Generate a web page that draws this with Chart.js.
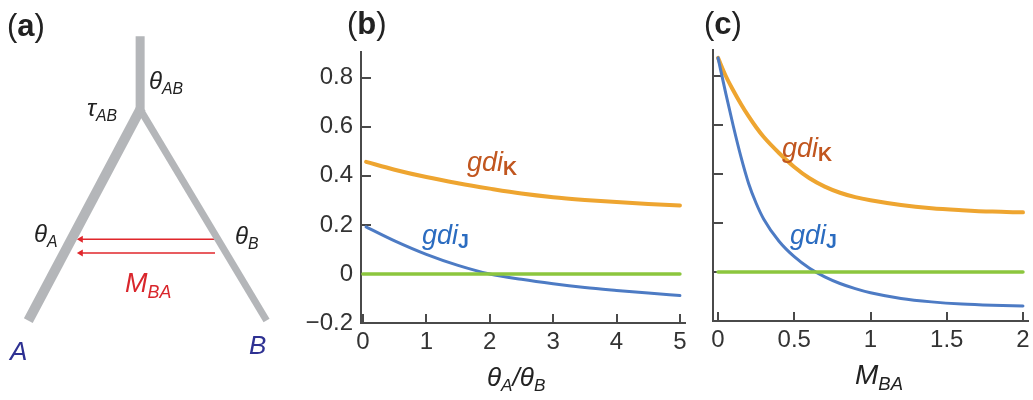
<!DOCTYPE html>
<html><head><meta charset="utf-8">
<script src="https://cdn.jsdelivr.net/npm/chart.js@4/dist/chart.umd.min.js"></script>
<style>
body{margin:0;background:#fff;}
#wrap{position:relative;width:1033px;height:400px;overflow:hidden;font-family:"Liberation Sans",Arial,Helvetica,sans-serif;}
canvas{position:absolute;top:0;}
.lbl{position:absolute;line-height:1;white-space:nowrap;z-index:5;}
.it{font-style:italic;}
.sub{font-size:0.66em;position:relative;top:0.32em;}
.ksub{font-size:0.72em;position:relative;top:0.22em;font-style:normal;font-weight:bold;}
</style></head><body>
<div id="wrap">
<canvas id="ca" width="290" height="400" style="left:0"></canvas>
<canvas id="cb" width="410" height="400" style="left:290px"></canvas>
<canvas id="cc" width="333" height="400" style="left:700px"></canvas>
</div>
<script>
// ---------- data ----------
// panel (a): tree diagram (diagram units = pixels of panel a)
const treeTrunk  = [[140,33],[140,112]];
const treeLeft   = [[141,106],[25,323]];
const treeRight  = [[139,106],[270,323]];
const migArrow1  = [[217,240],[79,240]];
const migArrow2  = [[217,254],[79,254]];

// panel (b): x = thetaA/thetaB
const bX      = [0.05, 0.5, 1, 1.5, 2, 2.5, 3, 3.5, 4, 4.5, 5];
const bGdiK   = [0.457, 0.425, 0.395, 0.370, 0.348, 0.328, 0.313, 0.302, 0.293, 0.285, 0.279];
const bGdiJ   = [0.192, 0.135, 0.080, 0.035, 0.000, -0.022, -0.040, -0.055, -0.067, -0.078, -0.088];
const bZeroX  = [0, 5];
const bZeroY  = [0, 0];
const bXTicks = [0, 1, 2, 3, 4, 5];
const bXTickLabels = ["0", "1", "2", "3", "4", "5"];
const yTicks  = [-0.2, 0, 0.2, 0.4, 0.6, 0.8];
const yTickLabels = ["\u22120.2", "0", "0.2", "0.4", "0.6", "0.8"];

// panel (c): x = M_BA
const cX      = [0, 0.05, 0.1, 0.15, 0.2, 0.25, 0.3, 0.4, 0.5, 0.6, 0.7, 0.8, 0.9, 1.0, 1.2, 1.4, 1.6, 1.8, 2.0];
const cGdiK   = [0.873, 0.80, 0.74, 0.685, 0.635, 0.59, 0.55, 0.485, 0.428, 0.382, 0.348, 0.323, 0.305, 0.292, 0.273, 0.26, 0.252, 0.246, 0.243];
const cGdiJ   = [0.873, 0.73, 0.595, 0.47, 0.362, 0.28, 0.215, 0.125, 0.062, 0.015, -0.02, -0.047, -0.068, -0.085, -0.108, -0.122, -0.131, -0.136, -0.139];
const cZeroX  = [0, 2];
const cZeroY  = [0, 0];
const cXTicks = [0, 0.5, 1, 1.5, 2];
const cXTickLabels = ["0", "0.5", "1", "1.5", "2"];

// ---------- styles ----------
const FONT = "'Liberation Sans', Arial, Helvetica, sans-serif";
Chart.defaults.font.family = FONT;
const COL_K = '#eea530', COL_J = '#4d7bc4', COL_Z = '#8cc63e';
const AXIS = '#4a4a4a';

const pts = (xs, ys) => xs.map((x, i) => ({x, y: ys[i]}));
const seg = a => a.map(p => ({x: p[0], y: p[1]}));

const insideTicks = {
  id: 'insideTicks',
  beforeDatasetsDraw(chart, args, o) {
    const {ctx, chartArea: a, scales: {x, y}} = chart;
    ctx.save();
    ctx.strokeStyle = o.color; ctx.lineWidth = o.width;
    ctx.beginPath();
    o.x.forEach(v => { const p = Math.round(x.getPixelForValue(v)); ctx.moveTo(p, a.bottom); ctx.lineTo(p, a.bottom - o.lenX); });
    o.y.forEach(v => { const p = Math.round(y.getPixelForValue(v)); ctx.moveTo(a.left, p); ctx.lineTo(a.left + o.lenY, p); });
    ctx.stroke();
    ctx.restore();
  }
};

function resetPad(s) { s.paddingLeft = 0; s.paddingRight = 0; s.paddingTop = 0; s.paddingBottom = 0; }

function lineChart(id, c) {
  const lineDs = (data, color, w) => ({data, borderColor: color, borderWidth: w, pointRadius: 0,
    showLine: true, fill: false, cubicInterpolationMode: 'monotone', borderCapStyle: 'round'});
  return new Chart(document.getElementById(id), {
    type: 'scatter',
    data: { datasets: [
      lineDs(c.zero, COL_Z, 3.5),
      lineDs(c.j, COL_J, 3),
      lineDs(c.k, COL_K, 4)
    ]},
    options: {
      responsive: false, animation: false, devicePixelRatio: 1,
      layout: { padding: c.padding },
      plugins: { legend: {display: false}, tooltip: {enabled: false},
        insideTicks: {x: c.xTicks, y: c.yTicks.slice(1), lenX: 9, lenY: 10, color: AXIS, width: 2} },
      scales: {
        x: { type: 'linear', min: c.xMin, max: c.xMax,
          afterBuildTicks: s => { s.ticks = c.xTicks.map(v => ({value: v})); },
          ticks: { callback: (v, i) => c.xLabels[i], font: {size: 24}, color: '#333', padding: 5, maxRotation: 0, autoSkip: false },
          grid: { display: false, drawTicks: false },
          border: { display: true, color: AXIS, width: 2 },
          afterFit: s => { s.height = c.xAxisH; resetPad(s); } },
        y: { type: 'linear', min: -0.2, max: 0.905,
          afterBuildTicks: s => { s.ticks = c.yTicks.map(v => ({value: v})); },
          ticks: { display: c.yLabels !== null, callback: (v, i) => c.yLabels ? c.yLabels[i] : '', font: {size: 24}, color: '#333', padding: 8, autoSkip: false },
          grid: { display: false, drawTicks: false },
          border: { display: true, color: AXIS, width: 2 },
          afterFit: s => { s.width = c.yAxisW; resetPad(s); } }
      }
    },
    plugins: [insideTicks]
  });
}

// ---------- panel (a) ----------
const treeDs = (a, w, color) => ({data: seg(a), showLine: true, borderColor: color, borderWidth: w,
  pointRadius: 0, borderCapStyle: 'butt', fill: false});
const arrowDs = a => ({data: seg(a), showLine: true, borderColor: '#e0262b', borderWidth: 1.5,
  pointRadius: [0, 4], pointStyle: 'triangle', pointRotation: [0, -90],
  pointBackgroundColor: '#e0262b', pointBorderColor: '#e0262b', pointBorderWidth: 0});
new Chart(document.getElementById('ca'), {
  type: 'scatter',
  data: { datasets: [
    treeDs(treeLeft, 10, '#b4b6b9'),
    treeDs(treeRight, 7, '#b4b6b9'),
    treeDs(treeTrunk, 9, '#b4b6b9'),
    arrowDs(migArrow1), arrowDs(migArrow2)
  ]},
  options: {
    responsive: false, animation: false, devicePixelRatio: 1,
    layout: {padding: 0},
    plugins: {legend: {display: false}, tooltip: {enabled: false}},
    scales: {
      x: {type: 'linear', min: 0, max: 290, display: false},
      y: {type: 'linear', min: 0, max: 400, reverse: true, display: false}
    }
  }
});

// ---------- panel (b) ----------
lineChart('cb', {
  zero: pts(bZeroX, bZeroY), j: pts(bX, bGdiJ), k: pts(bX, bGdiK),
  xMin: -0.03, xMax: 5.08, xTicks: bXTicks, xLabels: bXTickLabels,
  yTicks: yTicks, yLabels: yTickLabels,
  padding: {left: 0, right: 15, top: 52, bottom: 0}, yAxisW: 71, xAxisH: 77
});

// ---------- panel (c) ----------
lineChart('cc', {
  zero: pts(cZeroX, cZeroY), j: pts(cX, cGdiJ), k: pts(cX, cGdiK),
  xMin: -0.033, xMax: 2.033, xTicks: cXTicks, xLabels: cXTickLabels,
  yTicks: yTicks, yLabels: null,
  padding: {left: 0, right: 5, top: 50, bottom: 0}, yAxisW: 13, xAxisH: 79
});

// ---------- text labels ----------
const labels = [
  // [left, baseline, fontSize, html, color]
  [7, 36, 31, '(<b>a</b>)', '#222'],
  [347, 34, 31, '(<b>b</b>)', '#222'],
  [704, 34, 31, '(<b>c</b>)', '#222'],
  [149, 89, 24, '<span class="it">\u03B8<span class="sub">AB</span></span>', '#222'],
  [87, 116, 24, '<span class="it">\u03C4<span class="sub">AB</span></span>', '#222'],
  [34, 242, 24, '<span class="it">\u03B8<span class="sub">A</span></span>', '#222'],
  [235, 244, 24, '<span class="it">\u03B8<span class="sub">B</span></span>', '#222'],
  [125, 293, 27, '<span class="it">M<span class="sub">BA</span></span>', '#d9262c'],
  [10, 360, 26, '<span class="it">A</span>', '#2e3192'],
  [249, 354, 26, '<span class="it">B</span>', '#2e3192'],
  [487, 386, 26, '<span class="it">\u03B8<span class="sub">A</span>/\u03B8<span class="sub">B</span></span>', '#222'],
  [855, 385, 28, '<span class="it">M<span class="sub">BA</span></span>', '#222'],
  [467, 172, 27, '<span class="it">gdi<span class="ksub">K</span></span>', '#c1561f'],
  [422, 245, 27, '<span class="it">gdi<span class="ksub">J</span></span>', '#2b6cc0'],
  [782, 158, 27, '<span class="it">gdi<span class="ksub">K</span></span>', '#c1561f'],
  [790, 245, 27, '<span class="it">gdi<span class="ksub">J</span></span>', '#2b6cc0']
];
const wrap = document.getElementById('wrap');
labels.forEach(([x, base, fs, html, color]) => {
  const d = document.createElement('div');
  d.className = 'lbl';
  d.style.cssText = `left:${x}px;top:${(base - 0.8465 * fs).toFixed(1)}px;font-size:${fs}px;color:${color};`;
  d.innerHTML = html;
  wrap.appendChild(d);
});
</script>
</body></html>
